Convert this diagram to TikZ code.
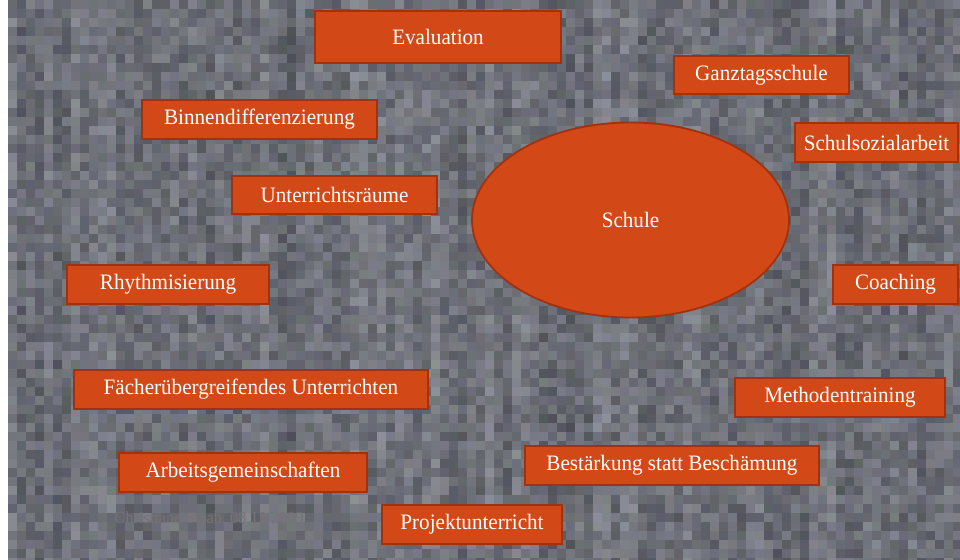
\documentclass[tikz,border=0pt]{standalone}
\usepackage{fontspec}
\setmainfont{Liberation Serif}[FakeStretch=0.96]
\definecolor{boxfill}{RGB}{210,73,23}
\definecolor{boxline}{RGB}{160,50,15}
\definecolor{faint}{RGB}{120,114,118}
\tikzset{
  topic/.style={rectangle, draw=boxline, line width=1.8pt, fill=boxfill, text=white,
    inner sep=0pt, font=\fontsize{22}{26}\selectfont},
  core/.style={ellipse, draw=boxline, line width=1.8pt, fill=boxfill, text=white,
    inner sep=0pt, font=\fontsize{22}{26}\selectfont},
}
\usetikzlibrary{shapes.geometric}
\begin{document}
\begin{tikzpicture}[x=1pt,y=-1pt]
\useasboundingbox (0,0) rectangle (960,559);
\fill[white] (0,0) rectangle (960,559);
% pixelated photo background
\pgfmathsetseed{7}
\foreach \i in {0,...,105}{
  \pgfmathsetmacro\col{rnd*24-12}
  \foreach \j in {0,...,62}{
    \pgfmathtruncatemacro\v{90+\col+rnd*40}
    \pgfmathtruncatemacro\bb{\v+6+rnd*10}
    \pgfmathtruncatemacro\gg{\v+rnd*6}
    \fill[color={rgb,255:red,\v;green,\gg;blue,\bb}] (8+\i*9,\j*9) rectangle ++(9.3,9.3);
  }
}
\node[topic, minimum width=246pt, minimum height=52pt] (eval) at (438,37) {Evaluation};
\node[topic, minimum width=175pt, minimum height=38pt] (ganz) at (761.5,75) {Ganztagsschule};
\node[topic, minimum width=235pt, minimum height=39pt] (binn) at (259.5,119.5) {Binnendifferenzierung};
\node[topic, minimum width=205pt, minimum height=38pt] (raum) at (334.5,195) {Unterrichtsräume};
\node[topic, minimum width=163pt, minimum height=39pt] (sozi) at (876.5,142.5) {Schulsozialarbeit};
\node[core, minimum width=317pt, minimum height=195pt] (schule) at (630.5,220) {Schule};
\node[topic, minimum width=202pt, minimum height=39pt] (rhyt) at (168,284.5) {Rhythmisierung};
\node[topic, minimum width=125pt, minimum height=39pt] (coach) at (895.5,284.5) {Coaching};
\node[topic, minimum width=354pt, minimum height=39pt] (fach) at (251,389.5) {Fächerübergreifendes Unterrichten};
\node[topic, minimum width=210pt, minimum height=39pt] (meth) at (840,397.5) {Methodentraining};
\node[topic, minimum width=248pt, minimum height=39pt] (ag) at (243,472.5) {Arbeitsgemeinschaften};
\node[topic, minimum width=294pt, minimum height=39pt] (best) at (672,465.5) {Bestärkung statt Beschämung};
\node[topic, minimum width=180pt, minimum height=39pt] (proj) at (472,524.5) {Projektunterricht};
\node[text=faint, font=\fontsize{17}{20}\selectfont, inner sep=0pt] (credit) at (209,519) {Christiane Staab, 08.12.2009};
\end{tikzpicture}
\end{document}
